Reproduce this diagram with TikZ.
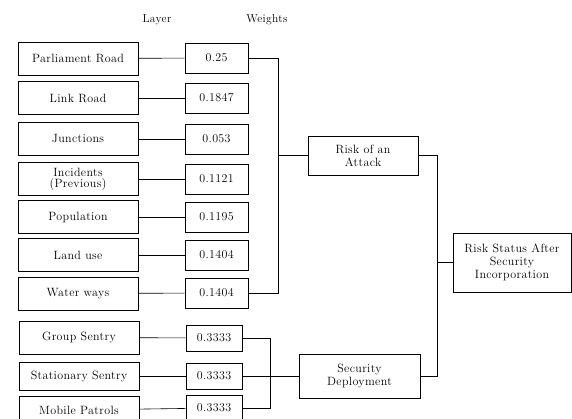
\documentclass[tikz,border=0pt]{standalone}
\usepackage{fontspec}
\setmainfont{Latin Modern Roman}[LetterSpace=3]
\begin{document}
\begin{tikzpicture}[x=1pt,y=-1pt,
	caja/.style={draw, line width=0.7pt, inner sep=1pt, align=center, font=\fontsize{12}{13}\selectfont},
	capa/.style={caja, minimum width=120pt, minimum height=33pt},
	peso/.style={caja, minimum width=63pt, minimum height=30pt},
	pesob/.style={caja, minimum width=56pt, minimum height=26pt},
	linea/.style={line width=0.6pt}]
	\useasboundingbox (0,0) rectangle (572,418);
	% titulos
	\node[font=\fontsize{11.5}{12}\selectfont] (tcapa) at (157,20) {Layer};
	\node[font=\fontsize{11.5}{12}\selectfont] (tpeso) at (267,20) {Weights};
	
	% capas
	\node[capa] (parl) at (78,58.5) {Parliament Road};
	\node[capa] (link) at (78,98) {Link Road};
	\node[capa] (junc) at (78,139) {Junctions};
	\node[capa] (inci) at (78,179) {Incidents\\[-2pt](Previous)};
	\node[capa] (popu) at (78,217) {Population};
	\node[capa] (land) at (78,255) {Land use};
	\node[capa] (water) at (78,293.5) {Water ways};
	\node[capa] (group) at (79,337.5) {Group Sentry};
	\node[capa, minimum height=28pt] (stat) at (79,376) {Stationary Sentry};
	\node[capa, minimum height=28pt] (mobi) at (79,410) {Mobile Patrols};
	
	% pesos
	\node[peso] (w1) at (216.5,58) {0.25};
	\node[peso] (w2) at (216.5,98) {0.1847};
	\node[peso] (w3) at (216.5,139) {0.053};
	\node[peso] (w4) at (216.5,179) {0.1121};
	\node[peso] (w5) at (216.5,217) {0.1195};
	\node[peso] (w6) at (216.5,255) {0.1404};
	\node[peso] (w7) at (216.5,293) {0.1404};
	\node[pesob] (g1) at (214,338) {0.3333};
	\node[pesob] (g2) at (214,376) {0.3333};
	\node[pesob] (g3) at (214,408) {0.3333};
	
	% resultados
	\node[caja, minimum width=110pt, minimum height=39pt] (riesgo) at (363,155.5) {Risk of an\\Attack};
	\node[caja, minimum width=121pt, minimum height=44pt] (segur) at (359.5,376) {Security\\Deployment};
	\node[caja, minimum width=118pt, minimum height=59pt] (estado) at (512,262.5) {Risk Status After\\Security\\Incorporation};
	
	% capa -- peso
	\foreach \a/\b in {parl/w1, link/w2, junc/w3, inci/w4, popu/w5, land/w6, water/w7, group/g1, stat/g2, mobi/g3}
		\draw[linea] (\a) -- (\b);
	
	% llaves
	\draw[linea] (w1.east) -- ++(30,0) |- (w7.east);
	\draw[linea] (riesgo.west) -- ++(-30,0);
	\draw[linea] (g1.east) -- ++(28,0) |- (g3.east);
	\draw[linea] (g2) -- (segur);
	\draw[linea] (riesgo.east) -- ++(19,0) |- (segur.east);
	\draw[linea] (estado.west) -- ++(-16,0);
\end{tikzpicture}
\end{document}
